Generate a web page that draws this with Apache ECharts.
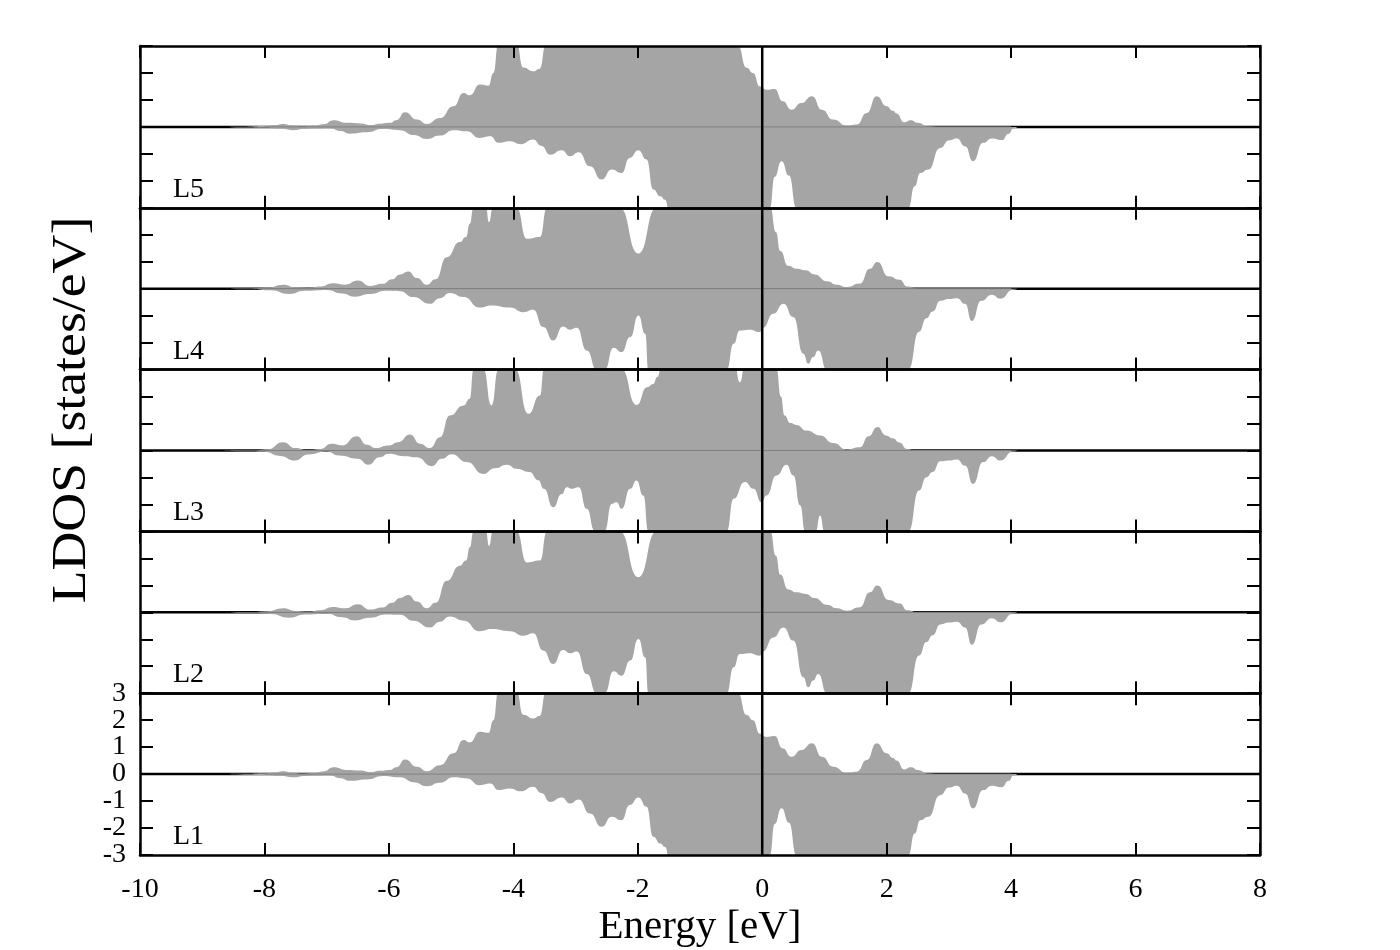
<!DOCTYPE html>
<html><head><meta charset="utf-8">
<script src="https://cdn.jsdelivr.net/npm/echarts@6/dist/echarts.min.js"></script>
<style>html,body{margin:0;padding:0;background:#fff}#c{width:1400px;height:950px}</style>
</head><body><div id="c"></div>
<script>
// Energy [eV] vs LDOS [states/eV]; pairs are [energy, value], spin-up positive, spin-down negative
const L1_up = [[-8.7,0],[-8.3,0.01],[-8.0,0.03],[-7.85,0.06],[-7.7,0.11],[-7.55,0.05],[-7.4,0.02],[-7.2,0.04],[-7.05,0.1],[-6.89,0.25],[-6.68,0.15],[-6.46,0.13],[-6.3,0.07],[-6.14,0.12],[-5.98,0.15],[-5.88,0.25],[-5.74,0.54],[-5.55,0.27],[-5.39,0.11],[-5.18,0.33],[-4.96,0.77],[-4.8,1.26],[-4.7,1.17],[-4.54,1.57],[-4.4,1.53],[-4.32,2.0],[-4.24,3.1],[-4.1,4.2],[-3.95,3.1],[-3.84,2.2],[-3.68,2.06],[-3.58,2.15],[-3.47,3.1],[-3.3,4.5],[-2.5,5],[-1.5,5],[-0.6,4.6],[-0.39,3.0],[-0.25,2.19],[-0.15,2.0],[-0.035,1.5],[0.07,1.38],[0.2,1.41],[0.33,0.95],[0.47,0.64],[0.63,0.89],[0.8,1.14],[0.96,0.64],[1.14,0.27],[1.36,0.04],[1.52,0.09],[1.68,0.52],[1.84,1.14],[2.0,0.77],[2.1,0.6],[2.16,0.5],[2.28,0.17],[2.39,0.25],[2.5,0.15],[2.66,0.02],[2.8,0],[4.05,0]];
const L1_dn = [[-8.7,0],[-8.3,-0.02],[-8.0,-0.03],[-7.75,-0.06],[-7.54,-0.12],[-7.35,-0.07],[-7.21,-0.05],[-6.95,-0.04],[-6.78,-0.15],[-6.63,-0.25],[-6.36,-0.2],[-6.09,-0.07],[-5.82,-0.12],[-5.6,-0.3],[-5.39,-0.45],[-5.18,-0.32],[-4.96,-0.12],[-4.75,-0.16],[-4.54,-0.41],[-4.37,-0.35],[-4.24,-0.59],[-4.05,-0.53],[-3.88,-0.64],[-3.68,-0.47],[-3.55,-0.7],[-3.41,-1.03],[-3.22,-0.87],[-3.09,-1.09],[-2.95,-0.94],[-2.77,-1.46],[-2.58,-1.95],[-2.42,-1.58],[-2.26,-1.71],[-2.13,-1.15],[-1.99,-0.87],[-1.86,-1.21],[-1.75,-2.32],[-1.64,-2.57],[-1.56,-2.7],[-1.5,-3.05],[-1.3,-4.2],[-0.6,-5],[-0.1,-4.5],[0.125,-3.0],[0.2,-1.85],[0.31,-1.27],[0.43,-1.8],[0.55,-3.0],[0.8,-4.5],[1.6,-5],[2.2,-4.2],[2.35,-3.0],[2.45,-2.2],[2.54,-1.71],[2.67,-1.58],[2.86,-0.78],[3.0,-0.5],[3.13,-0.43],[3.26,-0.72],[3.39,-1.27],[3.55,-0.59],[3.69,-0.43],[3.85,-0.49],[3.96,-0.25],[4.04,-0.05],[4.1,0]];

const L2_up = [[-8.7,0],[-8.2,0.01],[-7.95,0.04],[-7.7,0.15],[-7.5,0.05],[-7.3,0.03],[-7.1,0.08],[-6.9,0.2],[-6.7,0.15],[-6.5,0.3],[-6.3,0.1],[-6.1,0.18],[-5.95,0.35],[-5.82,0.53],[-5.69,0.64],[-5.55,0.4],[-5.39,0.15],[-5.25,0.35],[-5.07,1.17],[-4.86,1.73],[-4.76,1.92],[-4.7,2.41],[-4.64,3.0],[-4.5,3.4],[-4.44,3.0],[-4.39,2.47],[-4.33,3.0],[-4.2,3.6],[-3.95,3.0],[-3.78,1.85],[-3.57,1.92],[-3.46,3.0],[-3.2,4.5],[-2.6,4.5],[-2.29,3.0],[-1.99,1.3],[-1.7,3.0],[-1.4,4.5],[-0.2,4.5],[0.13,3.0],[0.22,2.1],[0.29,1.4],[0.42,0.85],[0.55,0.74],[0.7,0.68],[0.84,0.53],[1.04,0.28],[1.2,0.15],[1.36,0.06],[1.57,0.19],[1.73,0.74],[1.85,0.99],[2.03,0.46],[2.21,0.33],[2.33,0.08],[2.5,0],[4.05,0]];
const L2_dn = [[-8.7,0],[-8.2,-0.02],[-7.9,-0.06],[-7.6,-0.2],[-7.35,-0.08],[-7.0,-0.05],[-6.75,-0.18],[-6.55,-0.3],[-6.3,-0.2],[-6.05,-0.08],[-5.82,-0.09],[-5.61,-0.31],[-5.34,-0.56],[-5.18,-0.35],[-5.02,-0.16],[-4.8,-0.31],[-4.54,-0.7],[-4.35,-0.62],[-4.05,-0.7],[-3.84,-0.87],[-3.68,-0.78],[-3.52,-1.42],[-3.36,-1.92],[-3.2,-1.4],[-3.09,-1.52],[-2.98,-1.45],[-2.82,-2.29],[-2.66,-3.0],[-2.6,-3.3],[-2.53,-3.0],[-2.39,-2.19],[-2.26,-2.35],[-2.12,-1.79],[-1.99,-0.99],[-1.88,-1.67],[-1.83,-3.0],[-1.6,-4.5],[-0.8,-4.5],[-0.57,-3.0],[-0.46,-2.04],[-0.36,-1.55],[-0.2,-1.52],[-0.04,-1.61],[0.01,-1.45],[0.18,-0.93],[0.34,-0.56],[0.5,-1.05],[0.66,-2.41],[0.74,-2.78],[0.82,-2.53],[0.9,-2.29],[1.04,-3.0],[1.2,-4.5],[2.0,-4.5],[2.35,-3.0],[2.52,-1.6],[2.64,-1.1],[2.74,-0.85],[2.86,-0.45],[3.0,-0.38],[3.13,-0.35],[3.26,-0.56],[3.37,-1.2],[3.52,-0.45],[3.69,-0.22],[3.83,-0.37],[4.03,-0.04],[4.1,0]];

const L3_up = [[-8.7,0],[-8.2,0],[-7.95,0.05],[-7.7,0.31],[-7.5,0.09],[-7.3,0],[-7.1,0.06],[-6.92,0.25],[-6.75,0.19],[-6.52,0.53],[-6.35,0.21],[-6.22,0.09],[-6.0,0.19],[-5.85,0.31],[-5.66,0.59],[-5.5,0.25],[-5.34,0.09],[-5.18,0.49],[-5.02,1.3],[-4.8,1.67],[-4.7,1.92],[-4.64,3.0],[-4.56,3.6],[-4.48,3.0],[-4.35,1.67],[-4.24,3.0],[-4.1,3.6],[-3.97,3.0],[-3.76,1.36],[-3.57,2.04],[-3.51,3.0],[-3.3,4.5],[-2.6,4.5],[-2.26,3.0],[-2.02,1.69],[-1.85,2.35],[-1.75,2.47],[-1.69,2.72],[-1.6,3.3],[-1.0,4.5],[-0.45,3.3],[-0.36,2.53],[-0.27,3.3],[0.0,4.5],[0.23,3.0],[0.3,2.0],[0.36,1.3],[0.45,1.02],[0.55,0.95],[0.71,0.74],[0.93,0.56],[1.14,0.28],[1.36,0.04],[1.57,0.12],[1.71,0.53],[1.85,0.87],[1.99,0.56],[2.1,0.45],[2.2,0.3],[2.33,0.06],[2.45,0],[4.05,0]];
const L3_dn = [[-8.7,0],[-8.3,-0.03],[-8.0,-0.05],[-7.75,-0.2],[-7.51,-0.37],[-7.3,-0.15],[-7.0,-0.04],[-6.8,-0.19],[-6.5,-0.31],[-6.33,-0.53],[-6.15,-0.25],[-6.0,-0.12],[-5.75,-0.21],[-5.55,-0.25],[-5.31,-0.58],[-5.15,-0.31],[-4.99,-0.14],[-4.75,-0.43],[-4.48,-0.87],[-4.3,-0.66],[-4.1,-0.53],[-3.95,-0.68],[-3.74,-0.8],[-3.6,-1.1],[-3.51,-1.42],[-3.36,-2.1],[-3.22,-1.61],[-3.14,-1.36],[-3.06,-1.42],[-2.95,-1.36],[-2.82,-2.16],[-2.69,-2.97],[-2.61,-3.4],[-2.53,-2.97],[-2.42,-1.98],[-2.34,-1.92],[-2.26,-2.16],[-2.12,-1.42],[-2.02,-1.11],[-1.91,-1.67],[-1.83,-3.0],[-1.6,-4.5],[-0.8,-4.5],[-0.57,-3.0],[-0.46,-1.79],[-0.28,-1.17],[-0.14,-1.42],[-0.01,-1.92],[0.07,-1.67],[0.23,-0.93],[0.39,-0.53],[0.5,-0.93],[0.61,-2.04],[0.69,-3.0],[0.8,-3.4],[0.86,-3.0],[0.93,-2.41],[1.0,-3.0],[1.2,-4.5],[2.0,-4.5],[2.35,-3.0],[2.52,-1.48],[2.64,-0.99],[2.74,-0.8],[2.86,-0.4],[3.0,-0.37],[3.13,-0.33],[3.26,-0.56],[3.39,-1.24],[3.55,-0.43],[3.69,-0.21],[3.83,-0.37],[4.03,-0.04],[4.1,0]];

const L4_up = L2_up;
const L4_dn = L2_dn;
const L5_up = L1_up;
const L5_dn = L1_dn;

const layerNames = ['L1','L2','L3','L4','L5'];
const layerUp = [L1_up, L2_up, L3_up, L4_up, L5_up];
const layerDn = [L1_dn, L2_dn, L3_dn, L4_dn, L5_dn];

const X_MIN = -10, X_MAX = 8, X_STEP = 2;
const Y_MIN = -3, Y_MAX = 3, Y_STEP = 1;
const xTitle = 'Energy [eV]';
const yTitle = 'LDOS [states/eV]';

const FONT = '"Liberation Serif", "Times New Roman", serif';
const FILL = '#a5a5a5';
const PANEL_TOP = 46, PANEL_H = 161.8, LEFT = 140, WIDTH = 1120;

const chart = echarts.init(document.getElementById('c'), null, {renderer: 'canvas', width: 1400, height: 950});
const grids = [], xAxes = [], yAxes = [], series = [], graphics = [];
const lab = {fontFamily: FONT, fontSize: 28, color: '#000', showMinLabel: true, showMaxLabel: true, hideOverlap: false};

layerNames.forEach((name, k) => {
  const top = PANEL_TOP + (4 - k) * PANEL_H;
  grids.push({left: LEFT, width: WIDTH, top: top, height: PANEL_H, show: false});
  const axisLine = {show: true, onZero: false, lineStyle: {color: '#000', width: 2.5}};
  const tickX = {show: true, inside: true, length: 12, lineStyle: {color: '#000', width: 2}};
  const tickY = {show: true, inside: true, length: 13, lineStyle: {color: '#000', width: 2}};
  ['bottom', 'top'].forEach(pos => {
    xAxes.push({type: 'value', gridIndex: k, position: pos, min: X_MIN, max: X_MAX, interval: X_STEP,
      axisLine: axisLine, axisTick: tickX, splitLine: {show: false},
      axisLabel: Object.assign({show: k === 0 && pos === 'bottom', margin: 21}, lab), z: 10});
  });
  ['left', 'right'].forEach(pos => {
    yAxes.push({type: 'value', gridIndex: k, position: pos, min: Y_MIN, max: Y_MAX, interval: Y_STEP,
      axisLine: axisLine, axisTick: tickY, splitLine: {show: false},
      axisLabel: {show: false}, z: 10});
  });
  const xi = 2 * k, yi = 2 * k;
  series.push({type: 'line', xAxisIndex: xi, yAxisIndex: yi, data: [[X_MIN, 0], [X_MAX, 0]], symbol: 'none',
    lineStyle: {color: '#000', width: 2.5}, z: 1, silent: true, animation: false});
  [layerUp[k], layerDn[k]].forEach(d => {
    series.push({type: 'line', xAxisIndex: xi, yAxisIndex: yi, data: d, symbol: 'none', showSymbol: false,
      smooth: 0.55, smoothMonotone: 'x', clip: true,
      lineStyle: {width: 0, opacity: 0}, areaStyle: {color: FILL, opacity: 1, origin: 0}, z: 2, silent: true, animation: false});
  });
  series.push({type: 'line', xAxisIndex: xi, yAxisIndex: yi, data: [[-8.0, 0], [4.0, 0]], symbol: 'none',
    lineStyle: {color: '#808080', width: 1}, z: 3, silent: true, animation: false});
  series.push({type: 'line', xAxisIndex: xi, yAxisIndex: yi, data: [[0, Y_MIN], [0, Y_MAX]], symbol: 'none',
    lineStyle: {color: '#000', width: 2.5}, z: 4, silent: true, animation: false});
  graphics.push({type: 'text', x: 173, y: top + 143.5, z: 20,
    style: {text: name, fill: '#000', font: '28px ' + FONT, textAlign: 'left', textVerticalAlign: 'middle'}});
});

// tick labels of the bottom panel's y axis, split over two label-only axes (odd / even values)
[1, 0].forEach(parity => {
  yAxes.push({type: 'value', gridIndex: 0, position: 'left', min: Y_MIN, max: Y_MAX, interval: Y_STEP,
    axisLine: {show: false}, axisTick: {show: false}, splitLine: {show: false},
    axisLabel: Object.assign({show: true, margin: 14,
      formatter: v => (Math.abs(Math.round(v)) % 2 === parity ? String(v) : '')}, lab), z: 10});
});

graphics.push({type: 'text', x: 700, y: 927, z: 20,
  style: {text: xTitle, fill: '#000', font: '41px ' + FONT, textAlign: 'center', textVerticalAlign: 'middle'}});
graphics.push({type: 'text', x: 72, y: 410, rotation: Math.PI / 2, scaleX: 1.12, z: 20,
  style: {text: yTitle, fill: '#000', font: '48px ' + FONT, textAlign: 'center', textVerticalAlign: 'middle'}});

chart.setOption({
  animation: false,
  backgroundColor: '#fff',
  grid: grids, xAxis: xAxes, yAxis: yAxes, series: series, graphic: graphics
});
</script></body></html>
